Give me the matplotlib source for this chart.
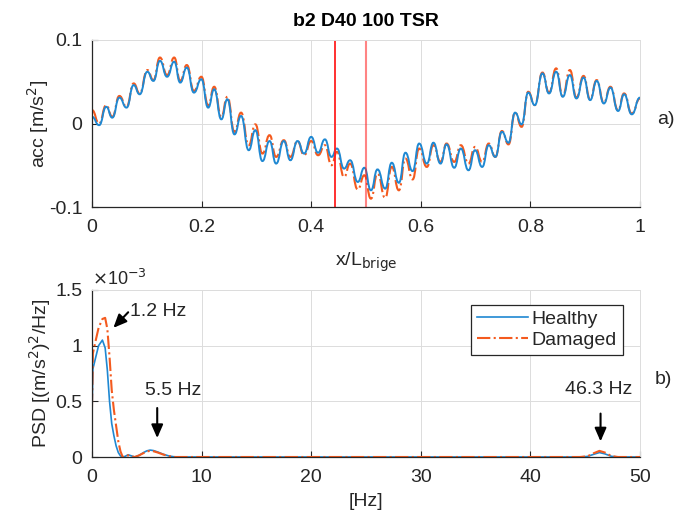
import matplotlib
matplotlib.use("Agg")
import matplotlib.pyplot as plt
from matplotlib.ticker import FuncFormatter
from matplotlib.path import Path
from matplotlib.patches import PathPatch

plt.rcParams['font.family'] = ['Liberation Sans', 'DejaVu Sans']

# ---------------- data: top panel (acceleration vs x/L), read at the local peaks/troughs ----------------
x_pos = [0.000, 0.013, 0.026, 0.037, 0.050, 0.063, 0.076, 0.087, 0.101, 0.112,
         0.124, 0.137, 0.150, 0.161, 0.173, 0.186, 0.1995, 0.212, 0.223, 0.236,
         0.247, 0.260, 0.272, 0.286, 0.298, 0.311, 0.324, 0.336, 0.350, 0.362,
         0.375, 0.387, 0.400, 0.4125, 0.425, 0.437, 0.447, 0.460, 0.471, 0.485,
         0.497, 0.509, 0.521, 0.535, 0.547, 0.560, 0.572, 0.585, 0.597, 0.611,
         0.623, 0.636, 0.647, 0.661, 0.673, 0.687, 0.699, 0.712, 0.724, 0.736,
         0.748, 0.760, 0.772, 0.784, 0.796, 0.808, 0.822, 0.834, 0.847, 0.859,
         0.872, 0.884, 0.897, 0.909, 0.921, 0.934, 0.946, 0.960, 0.971, 0.985,
         1.000]
acc_healthy = [0.008, -0.002, 0.020, 0.007, 0.031, 0.019, 0.046, 0.035, 0.062, 0.051,
               0.075, 0.056, 0.074, 0.049, 0.067, 0.037, 0.053, 0.019, 0.041, 0.005,
               0.029, -0.013, 0.009, -0.032, -0.008, -0.045, -0.021, -0.048, -0.021, -0.044,
               -0.021, -0.036, -0.016, -0.035, -0.019, -0.040, -0.030, -0.054, -0.044, -0.070,
               -0.053, -0.080, -0.055, -0.078, -0.047, -0.071, -0.035, -0.057, -0.024, -0.048,
               -0.023, -0.048, -0.025, -0.053, -0.030, -0.056, -0.032, -0.052, -0.026, -0.040,
               -0.010, -0.023, 0.013, -0.001, 0.037, 0.022, 0.060, 0.036, 0.062, 0.032,
               0.058, 0.030, 0.055, 0.028, 0.051, 0.024, 0.043, 0.015, 0.035, 0.011,
               0.031]
acc_damaged = [0.016, 0.000, 0.022, 0.008, 0.033, 0.020, 0.048, 0.036, 0.064, 0.052,
               0.079, 0.058, 0.079, 0.051, 0.070, 0.039, 0.056, 0.022, 0.044, 0.008,
               0.032, -0.010, 0.013, -0.026, -0.001, -0.036, -0.014, -0.040, -0.020, -0.040,
               -0.021, -0.038, -0.021, -0.038, -0.026, -0.050, -0.034, -0.064, -0.048, -0.079,
               -0.062, -0.090, -0.060, -0.089, -0.052, -0.080, -0.042, -0.067, -0.030, -0.052,
               -0.026, -0.046, -0.024, -0.046, -0.026, -0.048, -0.028, -0.046, -0.024, -0.040,
               -0.009, -0.025, 0.013, -0.004, 0.038, 0.022, 0.061, 0.037, 0.066, 0.033,
               0.064, 0.031, 0.057, 0.029, 0.052, 0.025, 0.044, 0.016, 0.036, 0.012,
               0.030]
marker_lines = [0.4434, 0.4995]

# ---------------- data: bottom panel (PSD, units of 1e-3) ----------------
freq = [0, 0.08, 0.3, 0.6, 0.95, 1.2, 1.4, 1.6, 1.8, 2.0,
        2.2, 2.4, 2.6, 2.8, 3.0, 3.3, 3.6, 3.9, 4.3, 4.7,
        5.0, 5.3, 5.6, 6.0, 6.5, 7.0, 7.6, 10, 20, 30,
        40, 44.5, 45.2, 45.8, 46.3, 46.8, 47.4, 48, 50]
psd_healthy = [0.38, 0.79, 0.88, 1.00, 1.05, 0.98, 0.78, 0.50, 0.30, 0.19,
               0.10, 0.04, 0.01, 0.0, 0.005, 0.02, 0.01, 0.0, 0.015, 0.04,
               0.055, 0.062, 0.058, 0.045, 0.025, 0.01, 0.0, 0, 0, 0,
               0, 0, 0.005, 0.025, 0.04, 0.028, 0.006, 0, 0]
psd_damaged = [0.45, 0.93, 1.03, 1.16, 1.24, 1.25, 1.15, 0.90, 0.60, 0.42,
               0.28, 0.14, 0.05, 0.0, 0.004, 0.015, 0.006, 0.0, 0.015, 0.035,
               0.05, 0.055, 0.052, 0.04, 0.022, 0.008, 0.0, 0, 0, 0,
               0, 0, 0.006, 0.035, 0.055, 0.04, 0.008, 0, 0]
peak_labels = ["1.2 Hz", "5.5 Hz", "46.3 Hz"]

BLUE = '#1f88d2'
ORANGE = '#f45a1e'
DARK = '#262626'
W, H = 678, 522

fig = plt.figure(figsize=(W / 100, H / 100), dpi=100)


def px_axes(left, top, right, bottom):
    return fig.add_axes([left / W, 1 - bottom / H, (right - left) / W, (bottom - top) / H])


def style(ax):
    ax.grid(True, color='#dcdcdc', lw=0.7)
    ax.set_axisbelow(True)
    for s in ['top', 'right']:
        ax.spines[s].set_color('#dcdcdc')
        ax.spines[s].set_linewidth(0.7)
    for s in ['left', 'bottom']:
        ax.spines[s].set_color(DARK)
        ax.spines[s].set_linewidth(0.9)
    ax.tick_params(direction='in', length=4, width=0.8, colors=DARK,
                   labelsize=14, labelcolor=DARK, pad=7)
    ax.tick_params(axis='x', pad=9)


def smooth_line(ax, xs, ys, **kw):
    """Connect successive extrema with cubic Bezier segments (flat tangents at each extremum)."""
    verts = [(xs[0], ys[0])]
    codes = [Path.MOVETO]
    for i in range(1, len(xs)):
        d = (xs[i] - xs[i - 1]) * 0.5
        verts += [(xs[i - 1] + d, ys[i - 1]), (xs[i] - d, ys[i]), (xs[i], ys[i])]
        codes += [Path.CURVE4] * 3
    patch = PathPatch(Path(verts, codes), fill=False, **kw)
    ax.add_patch(patch)
    return patch


fmt = FuncFormatter(lambda v, p: ('%g' % v).replace('\u2212', '-'))

# ---------------- top panel ----------------
ax1 = px_axes(92, 40, 640, 207)
style(ax1)
smooth_line(ax1, x_pos, acc_damaged, edgecolor=ORANGE, lw=1.5, ls='-.')
smooth_line(ax1, x_pos, acc_healthy, edgecolor=BLUE, lw=1.4)
ax1.axvline(marker_lines[0], color='#ff2020', lw=1.3)
ax1.axvline(marker_lines[1], color='#ff2020', lw=1.5, alpha=0.55)
ax1.set_xlim(0, 1)
ax1.set_ylim(-0.1, 0.1)
ax1.set_xticks([0, 0.2, 0.4, 0.6, 0.8, 1])
ax1.set_yticks([-0.1, 0, 0.1])
ax1.xaxis.set_major_formatter(fmt)
ax1.yaxis.set_major_formatter(fmt)
fig.text(366 / W, 1 - 22 / H, 'b2 D40 100 TSR', ha='center', va='center',
         fontsize=14, fontweight='bold', color='black')
fig.text(366 / W, 1 - 266 / H, r'x/L$_{\mathrm{brige}}$', ha='center', va='baseline',
         fontsize=14, color=DARK)
fig.text(38 / W, 1 - 124 / H, r'acc [m/s$^2$]', ha='center', va='center',
         rotation=90, fontsize=14, color=DARK)
fig.text(657 / W, 1 - 120 / H, 'a)', ha='left', va='center', fontsize=14, color=DARK)

# ---------------- bottom panel ----------------
ax2 = px_axes(92, 290, 640, 457)
style(ax2)
ax2.plot(freq, psd_healthy, color=BLUE, lw=1.2, label='Healthy')
ax2.plot(freq, psd_damaged, color=ORANGE, lw=1.5, ls='-.', label='Damaged')
ax2.set_xlim(0, 50)
ax2.set_ylim(0, 1.5)
ax2.set_xticks([0, 10, 20, 30, 40, 50])
ax2.set_yticks([0, 0.5, 1, 1.5])
ax2.xaxis.set_major_formatter(fmt)
ax2.yaxis.set_major_formatter(fmt)
ax2.text(0.0, 1.005, r'$\times$10$^{-3}$', transform=ax2.transAxes, ha='left',
         va='bottom', fontsize=13, color=DARK)
fig.text(366 / W, 1 - 502 / H, '[Hz]', ha='center', va='center', fontsize=14, color=DARK)
fig.text(40 / W, 1 - 373 / H, r'PSD [(m/s$^2$)$^2$/Hz]', ha='center', va='center',
         rotation=90, fontsize=14, color=DARK)
fig.text(655 / W, 1 - 380 / H, 'b)', ha='left', va='center', fontsize=14, color=DARK)

leg = ax2.legend(loc='upper left', bbox_to_anchor=(0.692, 0.912), borderaxespad=0,
                 fontsize=14, handlelength=2.6, handletextpad=0.2, borderpad=0.3,
                 labelspacing=0.15, fancybox=False, framealpha=1)
leg.get_frame().set_edgecolor(DARK)
leg.get_frame().set_linewidth(0.9)
for t in leg.get_texts():
    t.set_color(DARK)

aprops = dict(arrowstyle='-|>,head_length=0.8,head_width=0.35', color='black', lw=1.5,
              shrinkA=0, shrinkB=0)
ax2.annotate('', xy=(1.95, 1.16), xytext=(3.3, 1.30), arrowprops=aprops)
ax2.text(3.45, 1.31, peak_labels[0], ha='left', va='center', fontsize=14, color=DARK)
ax2.annotate('', xy=(5.95, 0.17), xytext=(5.95, 0.44), arrowprops=aprops)
ax2.text(7.4, 0.60, peak_labels[1], ha='center', va='center', fontsize=14, color=DARK)
ax2.annotate('', xy=(46.4, 0.14), xytext=(46.4, 0.39), arrowprops=aprops)
ax2.text(46.2, 0.61, peak_labels[2], ha='center', va='center', fontsize=14, color=DARK)

fig.savefig('out.png', dpi=100)
